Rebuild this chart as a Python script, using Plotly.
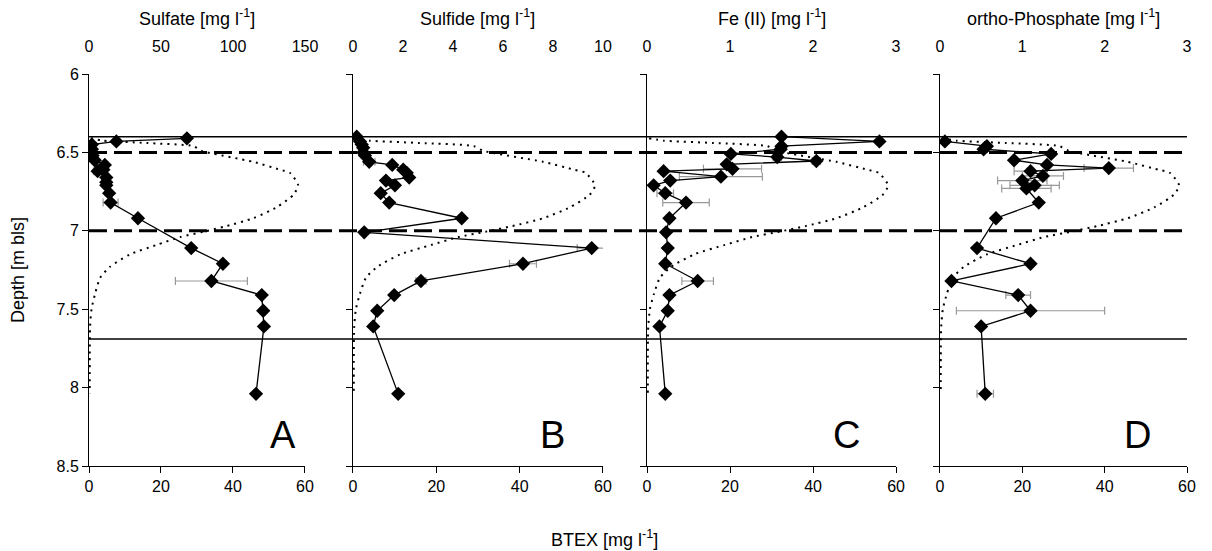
import plotly.graph_objects as go

# ---------------- data ----------------
solid_depths = [6.40, 7.69]
dashed_depths = [6.50, 7.00]

btex_depth = [6.41, 6.425, 6.44, 6.46, 6.49, 6.56, 6.61, 6.63, 6.71, 6.77, 6.85, 6.92, 6.97,
              7.006, 7.04, 7.09, 7.15, 7.23, 7.30, 7.40, 7.50, 7.61, 7.80, 8.04]
btex_conc = [0.5, 4.0, 16.0, 29.0, 31.3, 45.6, 53.0, 55.8, 58.1, 56.8, 52.1, 45.6, 38.2,
             31.8, 25.3, 18.8, 11.4, 5.8, 3.1, 1.7, 0.7, 0.3, 0.2, 0.2]

sulfate_depth = [6.41, 6.43, 6.45, 6.48, 6.52, 6.55, 6.58, 6.61, 6.62, 6.66, 6.69, 6.71,
                 6.76, 6.82, 6.92, 7.11, 7.21, 7.32, 7.41, 7.51, 7.61, 8.04]
sulfate = [68, 19, 2, 2, 2.5, 4, 11, 10, 6, 12, 12, 12, 14, 15, 34, 71, 93, 85, 120, 121, 121.5, 116]
sulfate_err = [None, None, None, None, None, None, None, None, 2.9, None, None, None,
               None, 5.2, None, None, None, 25, None, None, None, 1.0]

sulfide_depth = [6.40, 6.43, 6.45, 6.47, 6.50, 6.52, 6.56, 6.58, 6.61, 6.63, 6.66, 6.68,
                 6.71, 6.76, 6.82, 6.92, 7.01, 7.11, 7.21, 7.32, 7.41, 7.51, 7.61, 8.04]
sulfide = [0.15, 0.28, 0.35, 0.41, 0.41, 0.48, 0.65, 1.57, 2.01, 2.15, 2.25, 1.32,
           1.68, 1.11, 1.45, 4.35, 0.45, 9.55, 6.8, 2.72, 1.65, 0.97, 0.81, 1.81]
sulfide_err = [None, None, None, None, None, None, 0.23, None, 0.1, 0.1, 0.1, None,
               0.1, None, None, None, None, 0.58, 0.54, 0.2, None, None, None, None]

fe_depth = [6.40, 6.43, 6.46, 6.48, 6.51, 6.53, 6.555, 6.576, 6.605, 6.62, 6.655, 6.68,
            6.71, 6.76, 6.82, 6.92, 7.01, 7.11, 7.21, 7.32, 7.41, 7.51, 7.61, 8.04]
fe = [1.62, 2.80, 1.62, 1.61, 1.01, 1.57, 2.04, 0.96, 1.03, 0.20, 0.89, 0.28,
      0.08, 0.22, 0.47, 0.27, 0.23, 0.25, 0.22, 0.61, 0.27, 0.25, 0.15, 0.22]
fe_err = [None, None, None, None, None, 0.05, 0.05, None, 0.35, None, 0.5, None,
          None, 0.1, 0.28, None, None, None, None, 0.19, None, None, None, None]

po4_depth = [6.43, 6.46, 6.48, 6.51, 6.55, 6.58, 6.60, 6.62, 6.65, 6.68, 6.71, 6.73,
             6.82, 6.92, 7.11, 7.21, 7.32, 7.41, 7.51, 7.61, 8.04]
po4 = [0.06, 0.57, 0.53, 1.35, 0.90, 1.30, 2.05, 1.10, 1.25, 1.00, 1.15, 1.05,
       1.20, 0.68, 0.45, 1.10, 0.14, 0.95, 1.10, 0.50, 0.55]
po4_err = [None, None, None, None, None, None, 0.3, 0.2, 0.25, 0.3, 0.3, 0.3,
           None, None, None, None, None, 0.15, 0.9, None, 0.1]

btex_ticks = [0, 20, 40, 60]
depth_ticks = [6, 6.5, 7, 7.5, 8, 8.5]
depth_tick_labels = ["6", "6.5", "7", "7.5", "8", "8.5"]

panels = [
    dict(title="Sulfate [mg l<sup>-1</sup>]", depth=sulfate_depth, val=sulfate, err=sulfate_err,
         rng=[0, 150], ticks=[0, 50, 100, 150], letter="A"),
    dict(title="Sulfide [mg l<sup>-1</sup>]", depth=sulfide_depth, val=sulfide, err=sulfide_err,
         rng=[0, 10], ticks=[0, 2, 4, 6, 8, 10], letter="B"),
    dict(title="Fe (II) [mg l<sup>-1</sup>]", depth=fe_depth, val=fe, err=fe_err,
         rng=[0, 3], ticks=[0, 1, 2, 3], letter="C"),
    dict(title="ortho-Phosphate [mg l<sup>-1</sup>]", depth=po4_depth, val=po4, err=po4_err,
         rng=[0, 3], ticks=[0, 1, 2, 3], letter="D"),
]

# ---------------- layout geometry ----------------
W, H = 1212, 551
L, R, T, B = 89, 25, 74, 85
domains = [(0.0, 0.1967), (0.2404, 0.4681), (0.5082, 0.7350), (0.7750, 1.0)]

FONT = "Liberation Sans, Arial, sans-serif"
fig = go.Figure()
layout = dict(width=W, height=H, margin=dict(l=L, r=R, t=T, b=B),
              paper_bgcolor="white", plot_bgcolor="white", showlegend=False,
              font=dict(family=FONT, size=16, color="black"))
annotations = []
shapes = []

for i, p in enumerate(panels):
    xb = 2 * i + 1
    xt = 2 * i + 2
    yi = i + 1
    xb_name = "x" if xb == 1 else f"x{xb}"
    xt_name = f"x{xt}"
    y_name = "y" if yi == 1 else f"y{yi}"

    fig.add_trace(go.Scatter(x=btex_conc, y=btex_depth, xaxis=xb_name, yaxis=y_name,
                             mode="lines", line=dict(color="black", width=2, dash="2px,5px",
                                                     shape="spline", smoothing=0.6),
                             hoverinfo="skip"))
    fig.add_trace(go.Scatter(x=p["val"], y=p["depth"], xaxis=xt_name, yaxis=y_name,
                             mode="lines+markers",
                             line=dict(color="black", width=1.3),
                             marker=dict(symbol="diamond", size=11, color="black"),
                             error_x=dict(type="data", array=p["err"], visible=True,
                                          color="#999999", thickness=1.2, width=4)))

    layout[f"xaxis{'' if xb == 1 else xb}"] = dict(
        domain=list(domains[i]), anchor=y_name, range=[0, 60], tickvals=btex_ticks,
        showline=True, linecolor="black", linewidth=1, ticks="outside", ticklen=6,
        tickcolor="black", showgrid=False, zeroline=False, fixedrange=True,
        tickfont=dict(size=16))
    layout[f"xaxis{xt}"] = dict(
        domain=list(domains[i]), anchor=y_name, overlaying=xb_name, side="top",
        range=p["rng"], tickvals=p["ticks"], showline=False, ticks="",
        ticklabelstandoff=18, showgrid=False, zeroline=False, fixedrange=True,
        tickfont=dict(size=16))
    layout[f"yaxis{'' if yi == 1 else yi}"] = dict(
        domain=[0, 1], anchor=xb_name, range=[8.5, 6], tickvals=depth_ticks,
        ticktext=depth_tick_labels, showticklabels=(i == 0),
        showline=True, linecolor="black", linewidth=1, ticks="outside", ticklen=6,
        tickcolor="black", showgrid=False, zeroline=False, fixedrange=True,
        tickfont=dict(size=16))

    annotations.append(dict(text=p["title"], xref=f"{xt_name} domain", yref="paper",
                            x=0.5, y=1.0, yshift=57, showarrow=False,
                            font=dict(size=18), xanchor="center", yanchor="middle"))
    annotations.append(dict(text=p["letter"], xref=f"{xb_name} domain", yref=y_name,
                            x=0.90 if i == 0 else 0.80, y=8.3, showarrow=False,
                            font=dict(size=38), xanchor="center", yanchor="middle"))

for d in solid_depths:
    shapes.append(dict(type="line", xref="paper", yref="y", x0=0, x1=1, y0=d, y1=d,
                       line=dict(color="black", width=1.5)))
for d in dashed_depths:
    shapes.append(dict(type="line", xref="paper", yref="y", x0=0, x1=1, y0=d, y1=d,
                       line=dict(color="black", width=3, dash="18px,7px")))

annotations.append(dict(text="Depth [m bls]", xref="paper", yref="paper", x=0, y=0.5,
                        xshift=-71, textangle=-90, showarrow=False, font=dict(size=18),
                        xanchor="center", yanchor="middle"))
annotations.append(dict(text="BTEX [mg l<sup>-1</sup>]", xref="paper", yref="paper",
                        x=0.4699, y=0, yshift=-72, showarrow=False, font=dict(size=18),
                        xanchor="center", yanchor="middle"))

layout["annotations"] = annotations
layout["shapes"] = shapes
fig.update_layout(**layout)
fig.write_html("out.html")
